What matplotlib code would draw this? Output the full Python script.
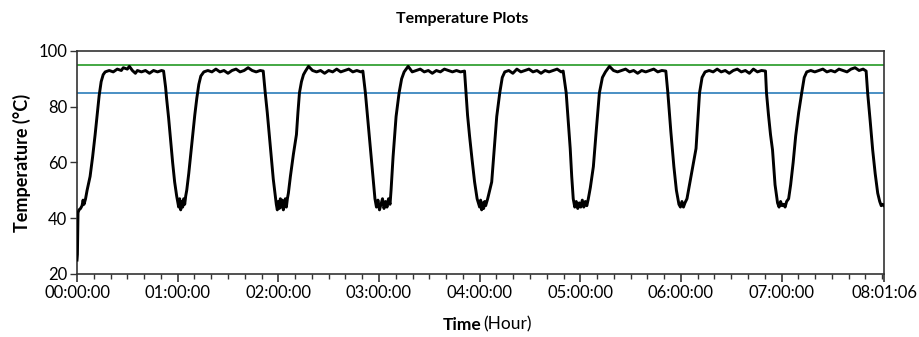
import matplotlib
matplotlib.use("Agg")
import matplotlib.pyplot as plt
import numpy as np

plt.rcParams['font.family'] = ['Lato', 'DejaVu Sans']

# ---- data (time in hours, temperature in degC) ----
time_h = [
    0.000, 0.004, 0.010, 0.020, 0.035, 0.050, 0.060, 0.070, 0.085, 0.100, 0.130, 0.155, 0.180, 0.200, 0.220, 0.240, 0.260, 0.280,
    0.320, 0.360, 0.400, 0.440, 0.460, 0.500, 0.520, 0.550, 0.580, 0.600, 0.640, 0.680, 0.720, 0.760, 0.800, 0.840, 0.860,
    0.880, 0.890, 0.910, 0.930, 0.950, 0.970, 0.990, 1.000, 1.010, 1.020, 1.030, 1.040, 1.050, 1.060, 1.070, 1.080, 1.090,
    1.110, 1.130, 1.150, 1.170, 1.190, 1.210, 1.230, 1.260,
    1.300, 1.340, 1.380, 1.420, 1.460, 1.500, 1.540, 1.580, 1.620, 1.660, 1.700, 1.740, 1.780, 1.820, 1.850,
    1.870, 1.890, 1.910, 1.930, 1.950, 1.970, 1.980, 1.990, 2.000, 2.010, 2.020, 2.030, 2.040, 2.050, 2.060, 2.070, 2.080, 2.090,
    2.100, 2.120, 2.150, 2.180, 2.195, 2.210, 2.230, 2.250, 2.270,
    2.300, 2.340, 2.380, 2.420, 2.460, 2.500, 2.540, 2.580, 2.620, 2.660, 2.700, 2.740, 2.780, 2.820, 2.840,
    2.865, 2.885, 2.905, 2.925, 2.945, 2.960, 2.975, 2.990, 3.005, 3.020, 3.035, 3.050, 3.065, 3.080, 3.095, 3.110,
    3.120, 3.140, 3.170, 3.200, 3.225, 3.250,
    3.290, 3.330, 3.370, 3.410, 3.450, 3.490, 3.530, 3.570, 3.610, 3.650, 3.690, 3.730, 3.770, 3.810, 3.850,
    3.865, 3.880, 3.900, 3.925, 3.950, 3.975, 4.000, 4.010, 4.020, 4.030, 4.040, 4.050, 4.060,
    4.080, 4.100, 4.120, 4.145, 4.170, 4.200, 4.225, 4.250,
    4.290, 4.330, 4.370, 4.410, 4.450, 4.490, 4.530, 4.570, 4.610, 4.650, 4.690, 4.730, 4.770, 4.810, 4.830,
    4.860, 4.880, 4.900, 4.915, 4.930, 4.945, 4.960, 4.975, 4.990, 5.005, 5.020, 5.035, 5.050, 5.065, 5.080,
    5.100, 5.130, 5.160, 5.190, 5.220, 5.250,
    5.290, 5.330, 5.370, 5.410, 5.450, 5.490, 5.530, 5.570, 5.610, 5.650, 5.690, 5.730, 5.770, 5.810, 5.850,
    5.870, 5.900, 5.930, 5.955, 5.980, 5.995, 6.010, 6.025, 6.040, 6.060,
    6.080, 6.110, 6.150, 6.185, 6.210, 6.240,
    6.280, 6.320, 6.360, 6.400, 6.440, 6.480, 6.520, 6.560, 6.600, 6.640, 6.680, 6.720, 6.760, 6.800, 6.840,
    6.850, 6.870, 6.890, 6.910, 6.935, 6.960, 6.975, 6.990, 7.005, 7.020, 7.035, 7.050, 7.070,
    7.090, 7.115, 7.140, 7.170, 7.200, 7.225, 7.250,
    7.290, 7.330, 7.370, 7.410, 7.450, 7.490, 7.530, 7.570, 7.610, 7.650, 7.690, 7.730, 7.770, 7.810, 7.840,
    7.855, 7.880, 7.905, 7.930, 7.955, 7.975, 7.990, 8.005, 8.0183,
]
temp_c = [
    25.0, 27.0, 42.0, 43.0, 43.5, 44.5, 46.5, 45.0, 47.0, 50.0, 55.0, 62.0, 70.0, 77.0, 84.0, 89.0, 91.5, 92.5,
    93.0, 92.5, 93.5, 93.0, 94.0, 93.5, 94.5, 93.0, 92.0, 93.0, 92.5, 93.0, 92.0, 93.0, 92.5, 93.0, 92.8,
    87.0, 83.0, 76.0, 68.0, 60.0, 53.0, 48.0, 46.0, 44.0, 47.0, 43.0, 46.0, 44.0, 47.0, 45.0, 48.0, 50.0,
    56.0, 63.0, 70.0, 77.0, 83.0, 88.0, 91.0, 92.5,
    93.0, 92.5, 93.5, 92.5, 93.0, 92.0, 93.0, 93.5, 92.5, 93.0, 94.0, 93.0, 92.5, 93.0, 92.8,
    85.0, 78.0, 70.0, 62.0, 54.0, 48.0, 45.0, 43.0, 46.0, 43.5, 47.0, 44.0, 46.5, 43.0, 45.0, 47.0, 44.0, 47.0,
    49.0, 55.0, 63.0, 70.0, 78.0, 85.0, 89.0, 91.5, 92.8,
    94.5, 93.0, 92.5, 93.0, 92.0, 93.0, 92.5, 93.5, 92.5, 93.0, 93.5, 92.5, 93.0, 92.5, 92.8,
    85.0, 77.0, 69.0, 61.0, 53.0, 47.0, 44.0, 46.5, 43.0, 45.0, 47.0, 43.5, 46.0, 44.0, 47.0, 45.0,
    50.0, 62.0, 76.5, 85.0, 90.0, 92.5,
    94.5, 92.5, 93.0, 93.5, 92.5, 93.0, 92.0, 93.0, 92.5, 93.5, 93.0, 92.5, 93.0, 92.5, 92.8,
    85.0, 77.0, 69.5, 61.0, 53.0, 47.0, 44.0, 46.5, 43.0, 45.5, 43.5, 46.0, 44.5,
    47.0, 50.0, 53.0, 65.0, 76.5, 85.0, 90.5, 92.5,
    93.0, 92.0, 93.5, 92.5, 93.0, 93.5, 92.5, 93.0, 92.0, 93.0, 92.5, 93.0, 93.5, 92.5, 92.8,
    85.0, 75.0, 65.0, 55.0, 47.0, 44.0, 46.0, 43.5, 45.5, 44.0, 46.5, 44.0, 46.0, 44.5, 47.0,
    51.0, 58.5, 72.0, 85.0, 90.5, 92.5,
    94.5, 93.0, 92.5, 93.0, 93.5, 92.5, 93.0, 92.0, 93.0, 92.5, 93.0, 93.5, 92.5, 93.0, 92.8,
    85.0, 71.0, 58.5, 50.0, 45.0, 44.0, 46.0, 44.0, 45.5, 47.0,
    51.0, 57.0, 65.0, 85.0, 90.5, 92.5,
    93.0, 92.5, 93.5, 92.5, 93.0, 92.0, 93.0, 93.5, 92.5, 93.0, 92.0, 93.5, 92.5, 93.0, 92.8,
    85.0, 77.0, 70.0, 64.5, 52.0, 45.5, 44.0, 46.0, 44.5, 45.0, 44.0, 46.0, 47.0,
    52.0, 60.0, 69.5, 78.0, 85.0, 90.5, 92.5,
    93.0, 92.5, 93.0, 93.5, 92.5, 93.0, 92.5, 93.5, 93.0, 92.5, 93.5, 94.0, 93.0, 93.5, 92.8,
    85.0, 75.0, 64.5, 56.0, 49.0, 46.0, 44.5, 45.0, 44.5,
]
upper_limit = 95.0
lower_limit = 85.0

major_ticks = [0, 1, 2, 3, 4, 5, 6, 7, 8.0183]
major_labels = ["00:00:00", "01:00:00", "02:00:00", "03:00:00", "04:00:00",
                "05:00:00", "06:00:00", "07:00:00", "08:01:06"]
y_ticks = [20, 40, 60, 80, 100]

fig = plt.figure(figsize=(9.19, 3.37), dpi=100)
ax = fig.add_axes([0.0838, 0.187, 0.8782, 0.6617])

ax.axhline(upper_limit, color='#43a843', lw=1.4, zorder=2)
ax.axhline(lower_limit, color='#4a8fc4', lw=1.4, zorder=2)
ax.plot(time_h, temp_c, color='black', lw=2.1, zorder=3)

ax.set_xlim(0, 8.0183)
ax.set_ylim(20, 100)
ax.set_xticks(major_ticks)
ax.set_xticklabels(major_labels)
ax.set_xticks(np.arange(0, 8.01, 1/6), minor=True)
ax.set_yticks(y_ticks)

ax.tick_params(axis='x', which='major', length=6, width=1.2, color='#333333',
               labelsize=12, pad=2)
ax.tick_params(axis='x', which='minor', length=3.5, width=1.0, color='#333333')
ax.tick_params(axis='y', which='major', length=5, width=1.0, color='#333333',
               labelsize=12, pad=2)
for s in ax.spines.values():
    s.set_color('#333333')
    s.set_linewidth(1.2)

ax.set_ylabel('Temperature (°C)', fontsize=13, fontweight='bold', labelpad=5)

fig.text(0.503, 0.943, 'Temperature Plots', ha='center', va='center',
         fontsize=11.5, fontweight='bold')
fig.text(0.5235, 0.036, 'Time', ha='right', va='center', fontsize=12.5,
         fontweight='bold')
fig.text(0.5255, 0.036, '(Hour)', ha='left', va='center', fontsize=12.5)

fig.savefig('out.png', dpi=100)
